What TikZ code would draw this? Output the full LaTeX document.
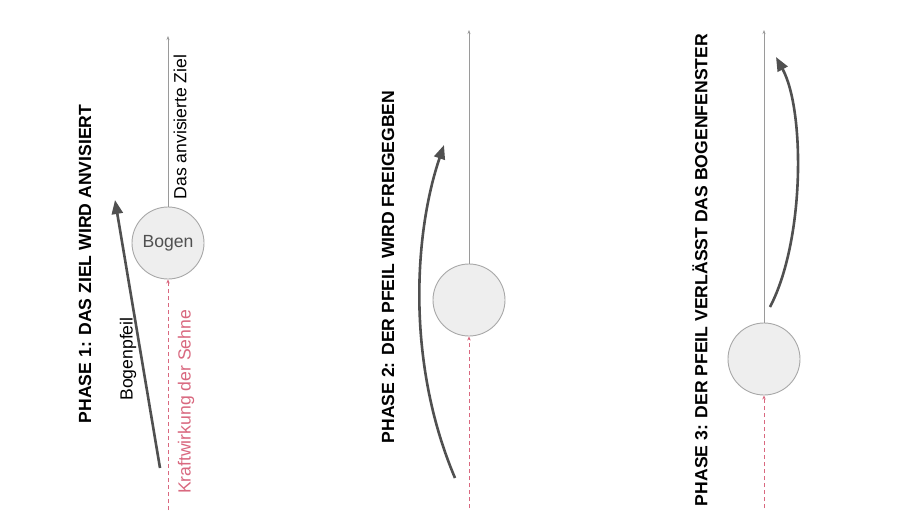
\documentclass[tikz,border=0pt]{standalone}
\usepackage{fontspec}
\setmainfont{Liberation Sans}
\usetikzlibrary{arrows.meta}
\definecolor{circfill}{HTML}{EEEEEE}
\definecolor{circline}{HTML}{A8A8A8}
\definecolor{arrowgray}{HTML}{505050}
\definecolor{linegray}{HTML}{9A9A9A}
\definecolor{pinkred}{HTML}{D9687F}
\begin{document}
\begin{tikzpicture}[x=1pt,y=-1pt,
  bowcircle/.style={circle,draw=circline,line width=0.9pt,fill=circfill,minimum size=72pt,inner sep=0pt,font=\fontsize{17.6}{20}\selectfont,text=arrowgray},
  phasetitle/.style={rotate=90,font=\fontsize{17.6}{20}\selectfont\bfseries,text=black,inner sep=0pt},
  label17/.style={rotate=90,font=\fontsize{17.6}{20}\selectfont,inner sep=0pt},
  aimline/.style={draw=linegray,line width=0.8pt,-{Stealth[length=4pt,width=3pt]}},
  forceline/.style={draw=pinkred,line width=0.9pt,dash pattern=on 4pt off 3pt,-{Stealth[length=4pt,width=3.5pt]}},
  arrowline/.style={draw=arrowgray,line width=2.6pt,-{Triangle[length=14pt,width=11pt]}}
]
\useasboundingbox[fill=white] (0,0) rectangle (924,520);

% ---------- Phase 1 ----------
\node[phasetitle] (t1) at (85,264) {PHASE 1: DAS ZIEL WIRD ANVISIERT};
\node[bowcircle] (c1) at (168,243) {Bogen};
\coordinate (aim1) at (168,36);
\coordinate (force1) at (168,510);
\draw[aimline] (c1.north) -- (aim1);
\draw[forceline] (force1) -- (c1.south);
\node[label17] (lz1) at (180,127) {Das anvisierte Ziel};
\node[label17,text=pinkred] (lk1) at (186,402) {Kraftwirkung der Sehne};
\coordinate (a1s) at (160,468);
\coordinate (a1e) at (115,200);
\draw[arrowline] (a1s) -- (a1e);
\node[label17] (lb1) at (128,359) {Bogenpfeil};

% ---------- Phase 2 ----------
\node[phasetitle] (t2) at (388,267) {PHASE 2: DER PFEIL WIRD FREIGEGBEN};
\node[bowcircle] (c2) at (469,300) {};
\coordinate (aim2) at (469,30);
\coordinate (force2) at (469,508);
\draw[aimline] (c2.north) -- (aim2);
\draw[forceline] (force2) -- (c2.south);
\coordinate (a2s) at (455,478);
\coordinate (a2e) at (444,145);
\draw[arrowline] (a2s) .. controls (405,360) and (415,230) .. (a2e);

% ---------- Phase 3 ----------
\node[phasetitle] (t3) at (700,270) {PHASE 3: DER PFEIL VERLÄSST DAS BOGENFENSTER};
\node[bowcircle] (c3) at (764,359) {};
\coordinate (aim3) at (764,30);
\coordinate (force3) at (764,508);
\draw[aimline] (c3.north) -- (aim3);
\draw[forceline] (force3) -- (c3.south);
\coordinate (a3s) at (770,307);
\coordinate (a3e) at (776,57);
\draw[arrowline] (a3s) .. controls (805,240) and (805,110) .. (a3e);
\end{tikzpicture}
\end{document}
